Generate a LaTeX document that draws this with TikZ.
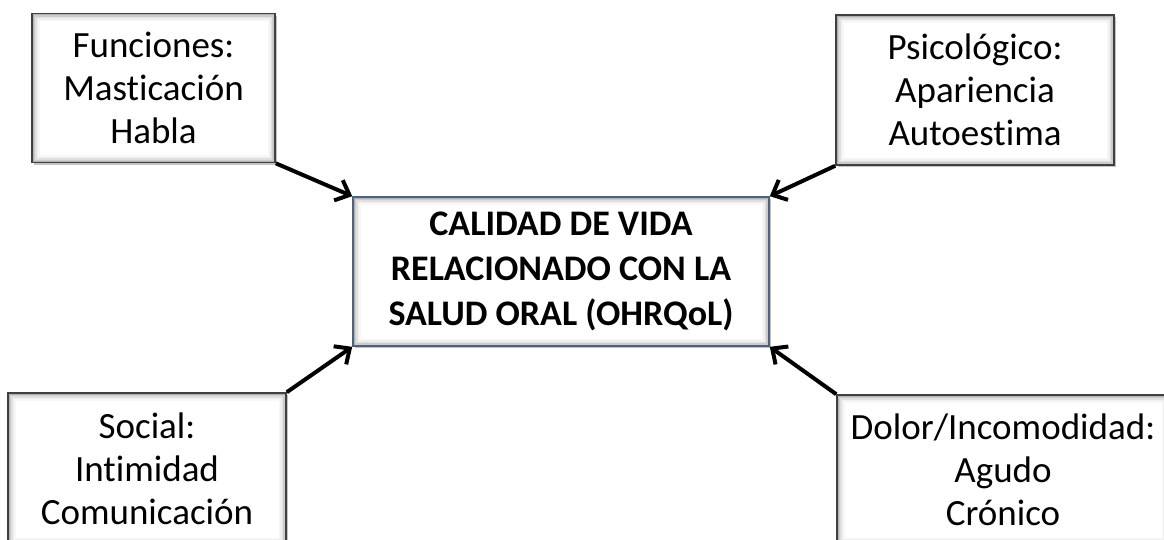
\documentclass[tikz,border=0pt]{standalone}
\usepackage{fontspec}
\setmainfont{Carlito}[Ligatures=NoCommon]
\usetikzlibrary{arrows.meta,shadows}
\definecolor{boxedge}{RGB}{64,64,64}
\definecolor{centeredge}{RGB}{79,98,125}
\tikzset{
  bevel/.style={path picture={
    \foreach \i/\c in {0/30,1.5/20,3/12,4.5/6,6/3}{
      \fill[black!\c] ([xshift=\i pt, yshift=\i pt]path picture bounding box.south west)
        rectangle ([xshift=-\i pt, yshift=-\i pt]path picture bounding box.north east);
    }
    \fill[white] ([xshift=7.5pt, yshift=7.5pt]path picture bounding box.south west)
        rectangle ([xshift=-7.5pt, yshift=-7.5pt]path picture bounding box.north east);
  }},
  sidebox/.style={draw=boxedge, line width=1.6pt, fill=white, align=center, bevel,
    inner sep=0pt, font=\fontsize{37}{43}\selectfont,
    drop shadow={shadow xshift=2pt, shadow yshift=-2pt, opacity=0.4, fill=black!60}},
  centerbox/.style={sidebox, draw=centeredge, font=\bfseries\fontsize{36}{45}\selectfont},
  link/.style={line width=4pt, -{Straight Barb[length=12pt, width=22pt, line width=4pt]}}
}
\begin{document}
\begin{tikzpicture}[x=1pt, y=-1pt]
\useasboundingbox (0,0) rectangle (1164,539);
\clip (0,0) rectangle (1164,539);
\node[sidebox, minimum width=243pt, minimum height=149pt] (tl) at (153.5,88)
  {Funciones:\\Masticación\\Habla};
\node[sidebox, minimum width=278pt, minimum height=150pt] (tr) at (975,90)
  {Psicológico:\\Apariencia\\Autoestima};
\node[centerbox, minimum width=416pt, minimum height=149pt] (c) at (561,271.5)
  {CALIDAD DE VIDA\\RELACIONADO CON LA\\SALUD ORAL (OHRQoL)};
\node[sidebox, minimum width=278pt, minimum height=152pt] (bl) at (147,469)
  {Social:\\Intimidad\\Comunicación};
\node[sidebox, minimum width=332pt, minimum height=150pt] (br) at (1003,470)
  {Dolor/Incomodidad:\\Agudo\\Crónico};
\draw[link] (tl.south east) -- (c.north west);
\draw[link] (tr.south west) -- (c.north east);
\draw[link] (bl.north east) -- (c.south west);
\draw[link] (br.north west) -- (c.south east);
\end{tikzpicture}
\end{document}
